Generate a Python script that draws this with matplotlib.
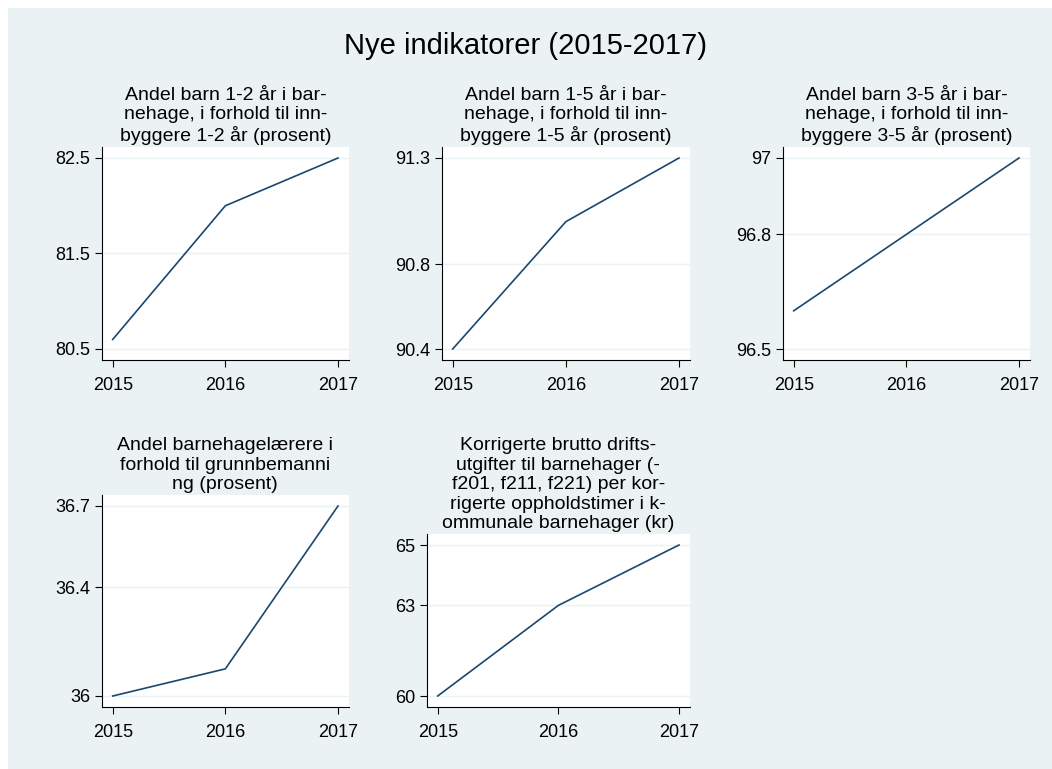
import matplotlib
matplotlib.use("Agg")
import matplotlib.pyplot as plt
from matplotlib.patches import Rectangle

plt.rcParams['font.family'] = ['Liberation Sans', 'DejaVu Sans']

# --- data ---
years = [2015, 2016, 2017]

titles = [
    "Andel barn 1-2 år i bar-\nnehage, i forhold til inn-\nbyggere 1-2 år (prosent)",
    "Andel barn 1-5 år i bar-\nnehage, i forhold til inn-\nbyggere 1-5 år (prosent)",
    "Andel barn 3-5 år i bar-\nnehage, i forhold til inn-\nbyggere 3-5 år (prosent)",
    "Andel barnehagelærere i\nforhold til grunnbemanni\nng (prosent)",
    "Korrigerte brutto drifts-\nutgifter til barnehager (-\nf201, f211, f221) per kor-\nrigerte oppholdstimer i k-\nommunale barnehager (kr)",
]

barn_1_2 = [80.6, 82.0, 82.5]
barn_1_5 = [90.4, 91.0, 91.3]
barn_3_5 = [96.6, 96.8, 97.0]
laerere = [36.0, 36.1, 36.7]
utgifter = [60, 63, 65]
series = [barn_1_2, barn_1_5, barn_3_5, laerere, utgifter]

yticks = [
    [80.5, 81.5, 82.5],
    [90.4, 90.8, 91.3],
    [96.5, 96.8, 97],
    [36, 36.4, 36.7],
    [60, 63, 65],
]
yticklabels = [
    ["80.5", "81.5", "82.5"],
    ["90.4", "90.8", "91.3"],
    ["96.5", "96.8", "97"],
    ["36", "36.4", "36.7"],
    ["60", "63", "65"],
]

# --- layout (pixels: left, top, right, bottom) ---
W, H = 1052, 769
boxes = [
    (101.7, 147, 349, 360),
    (441.7, 147, 690, 360),
    (782.7, 147, 1030, 360),
    (101.7, 495, 349, 707),
    (426.7, 534, 690, 707),
]

bg = "#EAF2F3"
navy = "#1A476F"
PAD = 11  # px of padding inside each plot region

fig = plt.figure(figsize=(W / 100, H / 100), dpi=100)
fig.patch.set_facecolor("white")
fig.patches.append(Rectangle((8 / W, 0), 1, 1 - 8 / H, transform=fig.transFigure,
                             facecolor=bg, edgecolor="none", zorder=-10))

fig.text(0.5, 1 - 46 / H, "Nye indikatorer (2015-2017)", ha="center", va="center",
         fontsize=21, color="black")

for i, (l, t, r, b) in enumerate(boxes):
    ax = fig.add_axes([l / W, 1 - b / H, (r - l) / W, (b - t) / H])
    ax.set_facecolor("white")
    ax.plot(years, series[i], color=navy, lw=1.2, zorder=3)

    lo, hi = min(yticks[i] + series[i]), max(yticks[i] + series[i])
    ypad = (hi - lo) * PAD / ((b - t) - 2 * PAD)
    ax.set_ylim(lo - ypad, hi + ypad)
    xpad = (years[-1] - years[0]) * PAD / ((r - l) - 2 * PAD)
    ax.set_xlim(years[0] - xpad, years[-1] + xpad)

    ax.set_yticks(yticks[i])
    ax.set_yticklabels(yticklabels[i])
    ax.set_xticks(years)
    ax.set_xticklabels([str(y) for y in years])
    ax.tick_params(axis="both", labelsize=13, length=5, width=0.8, color="black",
                   direction="out")
    ax.tick_params(axis="x", pad=7)
    ax.tick_params(axis="y", pad=3)
    ax.grid(axis="y", color=bg, lw=1.0, zorder=0)

    for s in ["top", "right"]:
        ax.spines[s].set_visible(False)
    for s in ["left", "bottom"]:
        ax.spines[s].set_color("black")
        ax.spines[s].set_linewidth(0.8)

    ax.set_title(titles[i], fontsize=14, linespacing=1.2, pad=4, color="black")

fig.savefig("out.png", dpi=100)
